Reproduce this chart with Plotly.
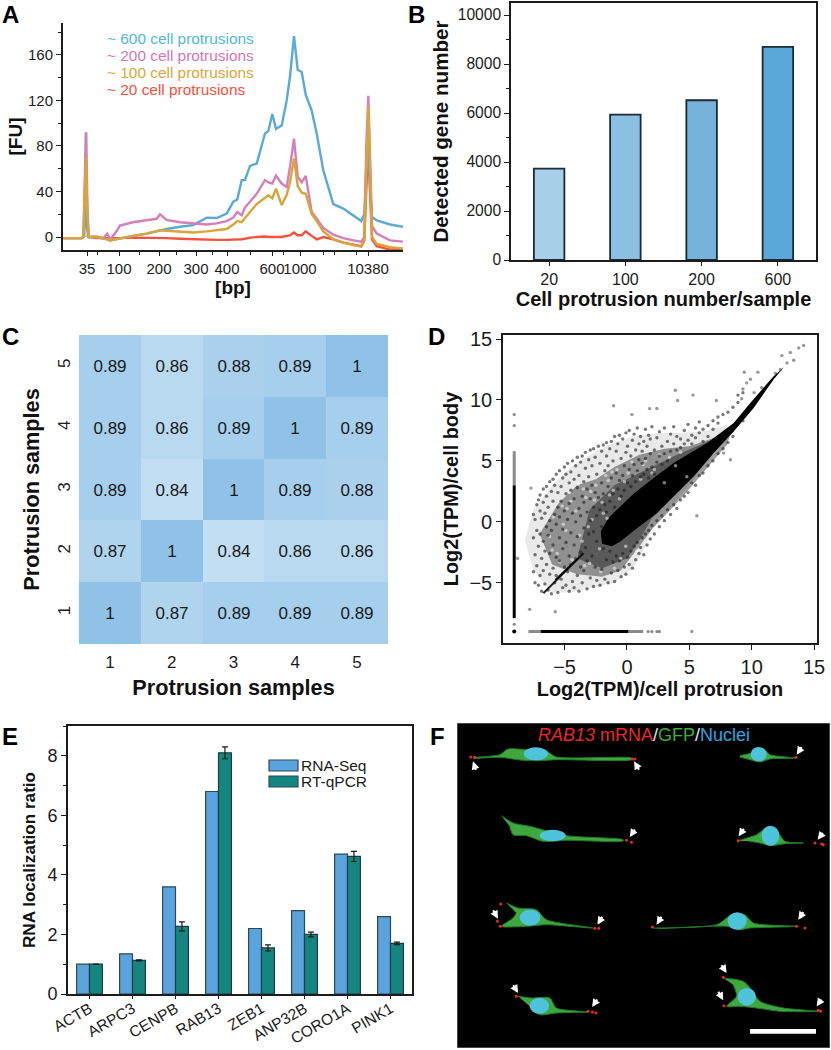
import plotly.graph_objects as go

W, H = 831, 1050
FONT = "Liberation Sans"
INK = "#1c1c1c"

# ---------- Panel A: electropherogram
fu_labels = ["35", "100", "200", "300", "400", "600", "1000", "10380"]
fu_positions = [24, 56, 96, 133, 164, 209, 237, 305]
fu_minor = [34, 76, 113, 149, 187, 220, 260, 271, 293]
migration = [0.3, 18.7, 20.3, 21.7, 23, 24.3, 25.7, 33.7, 40.3, 44.3, 47, 52, 57, 70, 83.7, 93.7, 97, 103.7,
             117, 130.3, 143.7, 153.7, 163.7, 170.3, 174.3, 178.7, 182, 187, 193.7, 202, 205.3, 209.3, 213,
             218.7, 223.7, 227, 231, 234.7, 238.7, 242.7, 248.7, 253.7, 260.3, 270.3, 280.3, 290.3, 298.3,
             301.3, 303.3, 305.3, 307, 309, 313.7, 327, 340]
fu_600 = [-1, -1, 0, 12, 26, 10, 0, 0, -1, -2, -3, -2, -1, 1, 3, 5, 6, 7, 9, 10.5, 17, 16.7, 20.5, 31, 33, 50, 50,
          62.5, 64.5, 91, 93, 108, 95, 98, 120, 141, 176.5, 147, 145, 125, 111, 91, 58.6, 29, 25, 19, 14, 20, 62,
          82, 44, 17.6, 14.7, 11, 9]
fu_200 = [-1, -1, 0, 40, 92, 30, 0, .5, -1, 3, -2, 3, 10, 13, 15, 16, 20, 15, 13, 12, 11, 12, 14, 17, 22, 19, 26,
          31, 38, 50, 48, 47, 54, 47, 44, 61.6, 86.5, 53, 48, 53.7, 22, 16, 8, 2, -1, -3, -4, 0, 80, 124, 70, 10,
          3, -3, -4]
fu_100 = [-1, -1, 0, 30, 70, 20, 0, 0, -1, -2, -3, -2, -1, 1, 3, 5, 6, 5.5, 4.5, 4, 5, 6, 7, 11, 14, 13, 17, 22, 29,
          35, 36.6, 34, 42.5, 28, 37, 48, 69, 45, 39, 38, 20, 14, 5, -2, -5, -7, -8.5, -3, 60, 115, 65, 0, -6, -9,
          -10]
fu_20 = [-1, -1, 0, 15, 27, 10, 0, -1, -1, -1, -1.5, -1, -1, -.5, -.5, -1, -1, -1, -1.5, -2, -2.5, -2.5, -2.5, -2.5,
         -2, -2, -1.5, -.5, 0, .5, 0, 0, .5, 0, 1, 1.5, 4, 1.5, 1.5, 5, 1, -2, 0, -2, -5, -7, -8, -3, 50, 85, 40, -2,
         -8, -11, -11]
ladder_x = [21.7, 23, 24.3]
ladder_y = [0, 92, 0]
series_names = ["~ 600 cell protrusions", "~ 200 cell protrusions", "~ 100 cell protrusions", "~ 20 cell protrusions"]
series_text_colors = ["#52b8d8", "#d576b4", "#dba63a", "#f4523c"]

# ---------- Panel B
bar_labels = ["20", "100", "200", "600"]
gene_counts = [3730, 5930, 6520, 8700]
bar_colors = ["#a6d0ea", "#8cc0e2", "#75b3da", "#5ba7d8"]

# ---------- Panel C
samples = [1, 2, 3, 4, 5]
corr = [[1, .87, .89, .89, .89],
        [.87, 1, .84, .86, .86],
        [.89, .84, 1, .89, .88],
        [.89, .86, .89, 1, .89],
        [.89, .86, .88, .89, 1]]

# ---------- Panel D: hand-read outlines of the saturated regions and individually read points
core_x = [12.6, 11.76, 9.89, 8.56, 6.42, 3.74, 2.14, .53, -.6, -1.5, -2.1, -2.0, -1.2, -.53, .8, 2.4, 3.74, 5.35, 6.95, 8.56, 10.16, 11.76]
core_y = [12.7, 11.95, 9.75, 8.11, 6.47, 4.82, 3.6, 2.3, 1.2, .3, -.8, -1.8, -2.0, -1.62, -.52, .71, 2.08, 3.73, 5.64, 7.42, 9.34, 11.67]
inner_x = [-4, -3, -1, 1, 4, 7, 6, 4, 2, 1, 0, -2]
inner_y = [-3, 1, 3, 4, 5.5, 6.8, 4.5, 2.5, .3, -1.5, -3, -3.8]
mid_x = [-7, -5.5, -4, -2.5, -1, 1, 3, 5, 7, 8.5, 8, 6.5, 5, 3.5, 2, 1, -.5, -2, -4, -6]
mid_y = [-1, 1.5, 3, 3.5, 4.5, 5.5, 6, 6.2, 6.9, 7.8, 6.3, 4.5, 2.7, 1, -.6, -2, -4, -4.5, -4.3, -3.5]
outer_x = [-8.2, -7.5, -6, -4.5, -3, -1.5, .5, 2.5, 4.5, 6.5, 8, 8, 6.5, 5, 3.5, 2, 1.5, .5, -1, -2.5, -4.5, -6, -7.5]
outer_y = [-1.5, 1, 3, 4.5, 5.5, 6.3, 7, 7.3, 7.3, 7.5, 8, 7, 5, 3, 1.2, -.5, -2, -3.8, -5, -5.3, -5.8, -5.8, -4]
streak_x = [-6.7, -3.9, None, -5.75, -3.48]
streak_y = [-5.86, -3, None, -4.77, -2.58]
speck_x = [-1.07, 3.88, 5.3, 4.06, 7.17, 1.82, 2.4, .4, 9.41, 10.5, 5.2, 5.6, 8.3, 7.75, -5.75, -7.8, -7.7, -8.77,
           14.17, 13.77, 13.1, 12.43, 13.37, 12.83, 12.3, 11.9, 9.6, 9.9, 9.3, 10.2, 9.2, 10.8]
speck_y = [9.53, 10.8, 10.4, 9.95, 9.95, 9.29, 9.3, 8.8, 12.27, 12.27, -9, .5, 5.1, 5.64, -7.37, -7.18, 2.77, -3,
           14.47, 14.27, 13.9, 13.64, 13.26, 13.04, 12.5, 12.2, 11.4, 11.7, 10.9, 10.6, 10.1, 11.0]
cloud_rows = [
    (-7.5, [-4.1, -1.3, .6]), (-7.37, [-2.7, .2, -5.0]), (-7.23, [-3.6, -.7, 1.4]), (-7.1, [-5.2, -2.0, 1.8]),
    (-6.97, [-1.0, -4.4, .9, 2.2]), (-6.84, [-3.0, .3, -5.7]), (-6.71, [-1.6, 1.6, -4.0, 2.7]), (-6.58, [-5.1, -2.4, .7]),
    (-6.45, [-3.5, 2.1, -.4, 2.9]), (-6.32, [-5.6, -1.1, 1.2]), (-6.19, [-4.3, -2.6, 3.3, .1]), (-6.06, [-.7, 2.5, -5.9]),
    (-5.93, [-3.8, 1.7, -1.9, 3.5]), (-5.8, [-5.0, .6, 3.0]), (-5.67, [-2.9, -.2, 3.9, -4.4]), (-5.54, [1.2, -5.8, 2.4]),
    (-5.41, [-3.2, -1.3, 4.2, .4]), (-5.28, [-4.7, 2.9, 1.7]), (-5.15, [-2.2, 3.6, -5.4, -.6]), (-5.02, [4.5, .9, -3.7]),
    (-4.89, [-1.7, 2.3, -5.2, 3.9]), (-4.76, [-4.1, .2, 4.8]), (-4.63, [1.5, -2.8, 3.2, -5.7]), (-4.5, [-.9, 4.1, -3.5, 2.6]),
    (-4.37, [-4.9, 5.0, .7]), (-4.24, [3.5, -1.9, 1.9, -5.4]), (-4.11, [-3.0, 4.6, .0]), (-3.98, [2.8, 5.3, -4.4, -1.2]),
    (-3.85, [1.1, -5.7, 3.8]), (-3.72, [-2.5, 4.9, .5, -3.7]), (-3.59, [2.1, 5.4, -5.0]), (-3.46, [-.5, 3.3, -4.0, 1.6]),
    (-3.33, [4.4, -2.1, 5.7]), (-3.2, [.8, -5.5, 2.7, -3.2]), (-3.07, [5.1, -1.0, 3.7]), (-2.94, [-4.6, 1.9, 5.9, .1]),
    (-2.81, [3.0, -2.8, 4.6]), (-2.68, [-5.3, 1.2, 6.0, -.8]), (-2.55, [2.4, -3.7, 5.3]), (-2.42, [3.9, -1.6, .5, -4.8]),
    (-2.29, [6.2, 2.0, -2.7]), (-2.16, [4.8, -5.2, 1.0]), (-2.03, [3.2, -.4, 5.8, -3.9]), (-1.9, [-2.2, 2.3, 6.3]),
    (-1.77, [4.2, -4.7, 1.4]), (-1.64, [5.4, .8, -3.1, 6.5]), (-1.51, [2.9, -5.0, 4.6]), (-1.38, [6.0, 1.7, -2.4]),
    (-1.25, [3.6, -4.2, 6.6]), (-1.12, [5.0, 2.3, -3.3]), (-.99, [7.0, 1.2, -4.9]), (-.86, [4.0, -2.8, 5.8]),
    (-.73, [2.7, 6.4, -4.0]), (-.6, [3.4, -3.2, 7.1]), (-.47, [5.2, 2.1, -4.5]), (-.34, [6.8, 3.8, -2.6]),
    (-.21, [4.6, -3.7, 2.6]), (-.08, [7.3, 5.7, -4.3]), (.05, [3.2, 6.2, -2.9]), (.18, [4.3, 7.5, -3.5]),
    (.31, [5.4, 2.9, -2.4]), (.44, [6.7, 3.8, -3.8]), (.57, [4.7, 7.2, -2.0]), (.7, [3.3, 5.9, -3.1]),
    (.83, [7.7, 4.2, -1.7]), (.96, [5.1, 6.4, -2.6]), (1.09, [3.7, 7.0, -2.1]), (1.22, [4.8, -1.3, 5.8]),
    (1.35, [6.6, 3.9, -2.7]), (1.48, [7.6, 5.2, -1.0]), (1.61, [4.3, 6.2, -1.9]), (1.74, [7.1, 3.6, -.7]),
    (1.87, [5.6, -1.4, 6.8]), (2.0, [4.5, 7.8, -.3]), (2.2, [5.9, 3.9, -1.0]), (2.4, [6.9, 4.9, .1]),
    (2.6, [5.4, 7.4, -.4]), (2.8, [6.2, 4.7, .5]), (3.0, [7.7, 5.6, .1]), (3.25, [6.6, 5.0, 1.0]),
    (3.5, [7.2, 5.8, .6]), (3.75, [6.4, 7.8, 1.4]), (4.0, [5.9, 7.0, 1.1]), (4.3, [6.8, 6.1, 1.8]),
    (4.6, [7.5, 6.4, 2.1]), (4.9, [6.7, 8.0, 2.4]), (5.2, [7.1, 6.4, 3.2]), (5.5, [7.7, 6.9, 3.0]),
    (5.8, [7.3, 8.2, 3.8]), (6.1, [7.6, 6.6, 4.0]), (6.5, [7.9, 7.0, 4.6]), (6.9, [8.3, 7.6, 5.0]),
    (7.3, [8.1, 8.6, 5.6]), (7.7, [8.8, 6.0]), (8.1, [9.0, 6.5]), (8.5, [9.4, 7.0]), (8.9, [9.8, 10.4]), (9.3, [10.6, 8.3]),
]
gap_x = [-6.2, -5.9, -5.6, -5.2, -4.9, -4.6, -4.4, -4.1, -3.9, -3.6, -3.3, -3.0, -2.8, -2.5, -2.2, -2.0, -1.7, -1.4, -1.1,
         -.8, -.5, -.2, .1, .4, .8, 1.1, 1.5, 1.9, 2.2, 2.6, 3.0, 3.4, 3.9, 4.3, 4.8, -5.4, -4.8, -4.3, -3.8, -3.4, -2.9,
         -2.3, -1.9, -1.5, -1.0, -.6, -.1, .5, 1.3, 2.0, -6.0, -5.1, -4.5, -4.0, -3.5, -3.1, -2.6, -2.1, -1.6, -1.2]
gap_y = [-1.2, .4, -2.6, 1.3, -.7, 2.4, -3.1, .9, 3.1, -1.6, 2.0, -3.4, .2, 3.0, -2.2, 1.6, 3.8, 2.2, 2.6, 4.3, -3.0, 3.3,
         4.0, 4.9, -2.4, 3.5, 5.0, -1.1, 4.3, 5.5, 3.2, 5.3, 4.6, 5.7, 3.7, -3.3, 1.1, 3.6, -1.1, -3.6, 2.5, -2.7, .7,
         3.4, -3.8, 1.9, -2.0, 5.9, 4.7, 4.0, -2.3, -.2, 1.7, -3.0, 2.7, -.4, 1.8, -4.1, .3, 4.1]
zero_strong = [-7.9, 3.0]
zero_faint = [3.0, 5.8]
zero_outliers = [7.9, 8.8, -8.4]
zero_row_strong = [-6.9, .1]
zero_row_faint = [-7.9, 1.3]
zero_row_outliers = [1.7, 2.0, 2.4, 2.6]

# ---------- Panel E
genes = ["ACTB", "ARPC3", "CENPB", "RAB13", "ZEB1", "ANP32B", "CORO1A", "PINK1"]
rna_seq = [1, 1.35, 3.6, 6.8, 2.2, 2.8, 4.7, 2.6]
rt_qpcr = [1, 1.13, 2.27, 8.1, 1.55, 2.0, 4.62, 1.7]
rt_err = [0, .02, .15, .2, .1, .08, .17, .04]
E_BLUE, E_TEAL = "#5ba3dc", "#14857f"

# ---------- Panel F: micrograph sketch (coordinates within the image)
cells = [
    [(70,143),(150,135),(175,118),(230,120),(290,125),(320,142),(545,145),(545,150),(320,150),(270,153),(220,152),(150,143),(70,147)],
    [(870,138),(905,130),(940,118),(960,135),(1035,145),(960,148),(930,157),(900,150),(870,142)],
    [(155,318),(190,340),(240,350),(350,378),(520,390),(520,394),(350,392),(280,395),(230,378),(190,375),(180,350)],
    [(865,393),(920,375),(950,355),(985,370),(1005,395),(1060,400),(1005,402),(960,408),(930,400),(900,395)],
    [(170,580),(205,595),(260,600),(290,630),(430,655),(290,645),(230,650),(155,650),(190,625),(200,610)],
    [(610,655),(800,645),(845,615),(885,615),(910,640),(1040,650),(900,655),(870,660),(830,650),(630,657)],
    [(205,860),(245,865),(300,865),(320,895),(415,907),(320,910),(270,915),(240,890)],
    [(820,805),(880,815),(905,840),(930,875),(1000,895),(1105,905),(990,905),(920,895),(870,890),(830,890),(860,860),(850,825)],
]
nuclei = [(222,113,295,152),(902,112,950,155),(270,360,348,395),(935,348,988,408),
          (210,600,272,648),(833,608,890,660),(240,865,298,912),(863,835,918,888)]
red_x = [63,75,548,555,1038,530,545,865,1095,1115,1120,143,152,153,435,447,608,1040,1065,200,415,428,438,820,822,1105,1112]
red_y = [142,143,148,148,143,392,398,393,400,402,405,635,650,583,656,656,652,650,655,860,905,907,910,803,888,902,905]
arrows = [(80,185,70,155),(570,185,553,155),(1058,108,1040,135),(558,355,540,382),(885,353,866,380),
          (1122,365,1103,390),(128,597,145,627),(460,617,443,645),(638,617,620,645),(1063,603,1045,630),
          (812,762,830,790),(803,842,820,872),(1117,865,1100,890),(188,822,205,850),(445,865,427,892)]


def xdom(a, b):
    return [a / W, b / W]


def ydom(top, bottom):
    return [1 - bottom / H, 1 - top / H]


def axis(**kw):
    base = dict(showgrid=False, zeroline=False, linecolor=INK, tickcolor=INK, ticks="outside", automargin=False,
                tickfont=dict(family=FONT, size=15, color=INK), linewidth=1.6, tickwidth=1.4, ticklen=5)
    base.update(kw)
    return base


def title(text, size, standoff):
    return dict(text=text, font=dict(family=FONT, size=size, color="#111111", weight="bold"), standoff=standoff)


cloud_x = [x for x, ys in cloud_rows for _ in ys]
cloud_y = [y for _, ys in cloud_rows for y in ys]

fig = go.Figure()

# A
fig.add_trace(go.Scatter(x=ladder_x, y=ladder_y, mode="lines", line=dict(color="#a8dcc0", width=3), showlegend=False, xaxis="x", yaxis="y"))
for ys, c, nm in [(fu_20, "#f4523c", series_names[3]), (fu_600, "#5ba9d6", series_names[0]),
                  (fu_200, "#d57fb8", series_names[1]), (fu_100, "#d9a53a", series_names[2])]:
    fig.add_trace(go.Scatter(x=migration, y=ys, mode="lines", name=nm, line=dict(color=c, width=2.4), showlegend=False, xaxis="x", yaxis="y"))

# B
fig.add_trace(go.Bar(x=bar_labels, y=gene_counts, marker=dict(color=bar_colors, line=dict(color="#1b2a33", width=1.8)),
                     width=0.4, showlegend=False, xaxis="x2", yaxis="y2"))

# C
fig.add_trace(go.Heatmap(x=samples, y=samples, z=corr, text=corr, texttemplate="%{text}",
                         textfont=dict(family=FONT, size=17, color="#1a1a1a"), showscale=False, zmin=.84, zmax=1,
                         colorscale=[[0, "#c2def3"], [.125, "#b9d9f0"], [.1875, "#b1d4ee"], [.25, "#abd0ec"],
                                     [.3125, "#a5cfec"], [1, "#90c2e7"]],
                         xaxis="x3", yaxis="y3"))

# D
for xs, ys, col in [(outer_x, outer_y, "rgba(70,70,70,0.12)"), (mid_x, mid_y, "rgba(25,25,25,0.42)"),
                    (inner_x, inner_y, "rgba(15,15,15,0.42)"), (core_x, core_y, "#000000")]:
    fig.add_trace(go.Scatter(x=xs, y=ys, mode="lines", fill="toself", fillcolor=col, line=dict(width=0), showlegend=False, xaxis="x4", yaxis="y4"))
fig.add_trace(go.Scatter(x=gap_x, y=gap_y, mode="markers", marker=dict(size=3.5, color="rgba(255,255,255,0.5)"), showlegend=False, xaxis="x4", yaxis="y4"))
fig.add_trace(go.Scatter(x=cloud_x, y=cloud_y, mode="markers", marker=dict(size=3.4, color="rgba(30,30,30,0.6)"), showlegend=False, xaxis="x4", yaxis="y4"))
fig.add_trace(go.Scatter(x=speck_x, y=speck_y, mode="markers", marker=dict(size=3.4, color="rgba(50,50,50,0.5)"), showlegend=False, xaxis="x4", yaxis="y4"))
fig.add_trace(go.Scatter(x=streak_x, y=streak_y, mode="lines", line=dict(color="rgba(0,0,0,0.85)", width=2), showlegend=False, xaxis="x4", yaxis="y4"))
fig.add_trace(go.Scatter(x=[-9.04, -9.04], y=zero_strong, mode="lines", line=dict(color="#000000", width=3), showlegend=False, xaxis="x4", yaxis="y4"))
fig.add_trace(go.Scatter(x=[-9.04, -9.04], y=zero_faint, mode="lines", line=dict(color="rgba(90,90,90,.7)", width=3), showlegend=False, xaxis="x4", yaxis="y4"))
fig.add_trace(go.Scatter(x=[-9.04] * 3, y=zero_outliers, mode="markers", marker=dict(size=3.2, color="rgba(60,60,60,.6)"), showlegend=False, xaxis="x4", yaxis="y4"))
fig.add_trace(go.Scatter(x=zero_row_faint, y=[-9, -9], mode="lines", line=dict(color="rgba(90,90,90,.7)", width=3), showlegend=False, xaxis="x4", yaxis="y4"))
fig.add_trace(go.Scatter(x=zero_row_strong, y=[-9, -9], mode="lines", line=dict(color="#000000", width=3), showlegend=False, xaxis="x4", yaxis="y4"))
fig.add_trace(go.Scatter(x=zero_row_outliers, y=[-9] * 4, mode="markers", marker=dict(size=3.2, color="rgba(60,60,60,.6)"), showlegend=False, xaxis="x4", yaxis="y4"))
fig.add_trace(go.Scatter(x=[-9.04], y=[-9], mode="markers", marker=dict(size=4, color="#000000"), showlegend=False, xaxis="x4", yaxis="y4"))

# E
fig.add_trace(go.Bar(x=genes, y=rna_seq, name="RNA-Seq", marker=dict(color=E_BLUE, line=dict(color="#2f4858", width=1.2)), showlegend=False, xaxis="x5", yaxis="y5"))
fig.add_trace(go.Bar(x=genes, y=rt_qpcr, name="RT-qPCR", marker=dict(color=E_TEAL, line=dict(color="#1f3d44", width=1.2)),
                     error_y=dict(type="data", array=rt_err, color="#1a1a1a", thickness=1.2, width=3), showlegend=False, xaxis="x5", yaxis="y5"))
fig.add_trace(go.Scatter(x=[-.5, 7.5], y=[1, 1], mode="lines", line=dict(color="#f01e1e", width=1.5, dash="dot"), showlegend=False, xaxis="x5", yaxis="y5"))

# F
for cell in cells:
    fig.add_trace(go.Scatter(x=[p[0] for p in cell], y=[p[1] for p in cell], mode="lines", fill="toself",
                             fillcolor="#3ea83e", line=dict(color="#1f7a2a", width=1, shape="spline", smoothing=.7), showlegend=False, xaxis="x6", yaxis="y6"))
fig.add_trace(go.Scatter(x=red_x, y=red_y, mode="markers", marker=dict(size=3, color="#ee2a20"), showlegend=False, xaxis="x6", yaxis="y6"))

shapes = [dict(type="circle", xref="x6", yref="y6", x0=a, y0=b, x1=c, y1=d, fillcolor="#4fc3dc", line=dict(width=0), layer="above")
          for a, b, c, d in nuclei]
shapes.append(dict(type="rect", xref="x6", yref="y6", x0=900, y0=958, x1=1098, y1=972, fillcolor="white", line=dict(width=0), layer="above"))
# Panel E key swatches
for name_top, col in [(760, E_BLUE), (776, E_TEAL)]:
    shapes.append(dict(type="rect", xref="paper", yref="paper", x0=269 / W, x1=298 / W, y0=1 - name_top / H, y1=1 - (name_top + 11) / H,
                       fillcolor=col, line=dict(color="#2f4858", width=1.2), layer="above"))

annotations = []
for letter, px, py in [("A", 0, 15), ("B", 406, 15), ("C", 0, 336), ("D", 426, 336), ("E", 0, 736), ("F", 428, 736)]:
    annotations.append(dict(text=letter, xref="paper", yref="paper", x=px / W, y=1 - py / H, xanchor="left", yanchor="middle",
                            showarrow=False, font=dict(family=FONT, size=24, color="#000000", weight="bold")))
for i, (name, col) in enumerate(zip(series_names, series_text_colors)):
    annotations.append(dict(text=name, xref="paper", yref="paper", x=105 / W, y=1 - (38 + 17 * i) / H, xanchor="left", yanchor="middle",
                            showarrow=False, font=dict(family=FONT, size=15.4, color=col)))
for nm, py in [("RNA-Seq", 765.5), ("RT-qPCR", 781.5)]:
    annotations.append(dict(text=nm, xref="paper", yref="paper", x=299 / W, y=1 - py / H, xanchor="left", yanchor="middle",
                            showarrow=False, font=dict(family=FONT, size=15.5, color=INK)))
annotations.append(dict(text='<span style="color:#e8282a"><i>RAB13</i> mRNA</span><span style="color:#e6e6e6">/</span>'
                             '<span style="color:#3cae3c">GFP</span><span style="color:#e6e6e6">/</span>'
                             '<span style="color:#2aa8e0">Nuclei</span>',
                        xref="x6", yref="y6", x=582, y=75, showarrow=False, font=dict(family=FONT, size=18)))
for tx, ty, hx, hy in arrows:
    annotations.append(dict(text="", xref="x6", yref="y6", axref="x6", ayref="y6", x=hx, y=hy, ax=tx, ay=ty, showarrow=True,
                            arrowcolor="white", arrowwidth=2, arrowhead=2, arrowsize=.8))

fig.update_layout(
    width=W, height=H, autosize=False, margin=dict(l=0, r=0, t=0, b=0), paper_bgcolor="white", plot_bgcolor="white",
    font=dict(family=FONT, color=INK), barmode="group", bargap=0.4, bargroupgap=0, hovermode=False,
    shapes=shapes, annotations=annotations, showlegend=False,
    xaxis=axis(domain=xdom(63, 403), range=[0, 340], tickmode="array", tickvals=fu_positions, ticktext=fu_labels, tickangle=0, ticklen=4,
               minor=dict(tickmode="array", tickvals=fu_minor, ticks="outside", ticklen=3, tickcolor=INK), tickfont=dict(family=FONT, size=15, color=INK),
               linewidth=2, title=title("[bp]", 19, 3), anchor="y"),
    yaxis=axis(domain=ydom(23, 250), range=[-11.4, 188], tickmode="array", tickvals=[0, 40, 80, 120, 160],
               minor=dict(tickmode="array", tickvals=[20, 60, 100, 140, 180], ticks="outside", ticklen=3, tickcolor=INK),
               tickfont=dict(family=FONT, size=15, color=INK), linewidth=2, title=title("[FU]", 19, 0), anchor="x"),
    xaxis2=axis(domain=xdom(511, 816), type="category", range=[-.5, 3.5], mirror=True, ticklen=4, tickfont=dict(family=FONT, size=16, color=INK),
                title=title("Cell protrusion number/sample", 20, 1), anchor="y2"),
    yaxis2=axis(domain=ydom(3, 260), range=[0, 10490], tickmode="array", tickvals=[0, 2000, 4000, 6000, 8000, 10000], tickformat="d", mirror=True,
                minor=dict(tickmode="array", tickvals=[1000, 3000, 5000, 7000, 9000], ticks="outside", ticklen=3, tickcolor=INK),
                tickfont=dict(family=FONT, size=15.6, color=INK), title=title("Detected gene number", 20.6, 3), anchor="x2"),
    xaxis3=axis(domain=xdom(79, 388), range=[.5, 5.5], tickvals=samples, showline=False, tickcolor="rgba(0,0,0,0)", ticklen=3,
                tickfont=dict(family=FONT, size=17, color=INK), title=title("Protrusion samples", 21.7, 8), anchor="y3"),
    yaxis3=axis(domain=ydom(335, 644), range=[.5, 5.5], tickvals=samples, showline=False, tickcolor="rgba(0,0,0,0)", ticklen=1, tickangle=-90,
                tickfont=dict(family=FONT, size=17, color=INK), title=title("Protrusion samples", 21.7, 9), anchor="x3"),
    xaxis4=axis(domain=xdom(503, 817), range=[-9.94, 15.24], tickvals=[-5, 0, 5, 10, 15], mirror=True, tickfont=dict(family=FONT, size=20, color=INK),
                title=title("Log2(TPM)/cell protrusion", 19.9, 4), anchor="y4"),
    yaxis4=axis(domain=ydom(335, 643), range=[-9.94, 15.33], tickvals=[-5, 0, 5, 10, 15], mirror=True, tickfont=dict(family=FONT, size=20, color=INK),
                title=title("Log2(TPM)/cell body", 19.9, 5), anchor="x4"),
    xaxis5=axis(domain=xdom(68, 412), type="category", range=[-.5, 7.5], mirror=True, tickangle=-30, linewidth=2, ticklen=3, ticklabelstandoff=-5,
                tickfont=dict(family=FONT, size=15.5, color=INK), anchor="y5"),
    yaxis5=axis(domain=ydom(726, 994), range=[0, 9], tickvals=[0, 2, 4, 6, 8], mirror=True, linewidth=2,
                minor=dict(tickmode="array", tickvals=[1, 3, 5, 7, 9], ticks="outside", ticklen=3, tickcolor=INK),
                tickfont=dict(family=FONT, size=18, color=INK), title=title("RNA localization ratio", 17.1, 7), anchor="x5"),
    xaxis6=dict(domain=xdom(457, 830), range=[22, 1140], visible=False, anchor="y6", automargin=False),
    yaxis6=dict(domain=ydom(723, 1048), range=[1015, 40], visible=False, anchor="x6", automargin=False),
)
fig.add_shape(type="rect", xref="x6", yref="y6", x0=22, y0=40, x1=1140, y1=1015, fillcolor="#000000", line=dict(color="#8a8a8a", width=1), layer="below")

fig.write_html("out.html", config={"displayModeBar": False}, post_script="document.body.style.margin='0';")
